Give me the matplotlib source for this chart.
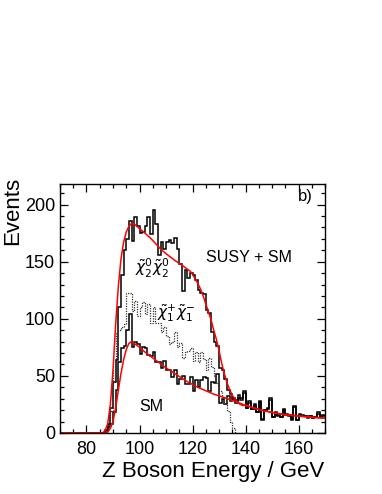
import numpy as np
import matplotlib
matplotlib.use('Agg')
import matplotlib.pyplot as plt

plt.rcParams['font.family'] = ['Liberation Sans', 'DejaVu Sans']

# 1 GeV bins from 70 to 170 GeV
edges = np.arange(70, 171, 1)

# SUSY + SM histogram (bins 70..169), first 16 bins are empty
susy_sm = [0] * 16 + [
    0, 3, 8, 22, 45, 64, 110, 138, 160, 170,
    186, 168, 189, 181, 175, 176, 181, 189, 174, 195,
    183, 156, 167, 161, 167, 169, 166, 171, 161, 148,
    124, 143, 136, 140, 138, 134, 125, 123, 122, 108,
    105, 88, 80, 76, 57, 55, 47, 38, 34, 31,
    29, 33, 31, 37, 22, 28, 21, 25, 18, 28,
    11, 20, 22, 31, 14, 18, 16, 14, 21, 17,
    16, 11, 24, 11, 17, 16, 15, 14, 15, 13,
    14, 18, 14, 16]

# SM only
sm = [0] * 16 + [
    0, 2, 5, 8, 18, 38, 62, 74, 76, 90,
    104, 75, 80, 78, 69, 75, 74, 68, 67, 71,
    62, 62, 57, 63, 55, 55, 49, 55, 43, 47,
    50, 43, 43, 49, 37, 46, 40, 46, 49, 48,
    37, 45, 44, 52, 26, 30, 25, 32, 28, 30,
    26, 31, 29, 35, 22, 26, 21, 24, 18, 27,
    12, 20, 21, 29, 14, 17, 15, 14, 20, 16,
    15, 12, 23, 11, 16, 15, 15, 13, 15, 13,
    14, 17, 14, 15]

# chargino pair contribution (dotted)
chi1chi1 = [0] * 16 + [
    0, 1, 4, 19, 55, 88, 90, 93, 95, 123,
    123, 107, 116, 102, 110, 115, 104, 113, 96, 110,
    96, 96, 88, 93, 85, 78, 80, 88, 75, 79,
    66, 71, 72, 74, 63, 71, 62, 71, 65, 55,
    66, 58, 50, 44, 37, 31, 25, 19, 10, 4] + [0] * 34

# fitted curves (red)
fit_susy_e = [70, 86, 87, 88, 89, 90, 91, 92, 93, 94, 95, 96, 97, 98, 99, 100,
              102, 104, 106, 108, 110, 112, 114, 116, 118, 119, 120, 121, 122,
              123, 124, 125, 126, 127, 128, 129, 130, 131, 132, 133, 134, 135,
              136, 137, 138, 139, 140, 142, 143, 146, 150, 155, 160, 165, 170]
fit_susy_v = [0, 0, 2, 8, 25, 55, 95, 128, 152, 167, 176, 181, 183.5, 183, 181, 179,
              175, 171, 166, 161, 157, 153.5, 150, 147, 143.5, 142, 139, 135, 131,
              126, 120, 113, 106, 99, 90, 82, 72, 61, 52, 44, 38, 33,
              30, 27, 25, 24, 24.5, 22.8, 22, 20, 18, 16, 14.8, 13.8, 13]

fit_sm_e = [70, 87, 88, 89, 90, 91, 92, 93, 94, 95, 96, 97, 98, 100, 102, 104,
            106, 108, 110, 112, 114, 116, 118, 120, 122, 124, 126, 128, 130,
            132, 135, 138, 140, 143, 146, 150, 155, 160, 165, 170]
fit_sm_v = [0, 0, 1, 4, 10, 22, 37, 52, 64, 73, 78.5, 80, 78.5, 75, 71, 67.5,
            64, 60.5, 57, 54, 51, 48, 45, 42.5, 40, 38, 36, 34, 32.5,
            31, 28.5, 26, 24, 22, 20, 18, 16, 14.8, 13.8, 13]

fig = plt.figure(figsize=(3.82, 4.94), dpi=100)
ax = fig.add_axes([0.157, 0.1235, 0.694, 0.504])

ax.stairs(sm, edges, baseline=None, color='black', lw=1.1)
ax.stairs(susy_sm, edges, baseline=None, color='black', lw=1.1)
ax.stairs(chi1chi1, edges, baseline=None, color='#333333', lw=0.9,
          linestyle=(0, (1, 1)))
ax.plot(fit_sm_e, fit_sm_v, color='red', lw=1.1)
ax.plot(fit_susy_e, fit_susy_v, color='red', lw=1.1)

ax.set_xlim(70, 170)
ax.set_ylim(0, 218)
ax.set_xticks([80, 100, 120, 140, 160])
ax.set_xticks(np.arange(70, 171, 5), minor=True)
ax.set_yticks([0, 50, 100, 150, 200])
ax.set_yticks(np.arange(0, 211, 10), minor=True)
ax.tick_params(which='both', direction='in', top=True, right=True,
               labelsize=13, width=0.9)
ax.tick_params(which='major', length=5.5)
ax.tick_params(which='minor', length=3)
ax.tick_params(axis='x', pad=6)
ax.tick_params(axis='y', pad=3.5)
for s in ax.spines.values():
    s.set_linewidth(1.0)

ax.set_ylabel('Events', fontsize=16, loc='top')
ax.yaxis.set_label_coords(-0.14, 1.028)
ax.set_xlabel('Z Boson Energy / GeV', fontsize=16, loc='right')
ax.xaxis.set_label_coords(0.995, -0.112)

ax.text(141.3, 154, 'SUSY + SM', fontsize=11.5, ha='center', va='center')
ax.text(104.5, 23.5, 'SM', fontsize=11.5, ha='center', va='center')
ax.text(165.5, 207, 'b)', fontsize=12, ha='right', va='center')
ax.text(104.9, 144, r'$\tilde{\chi}^{0}_{2}\tilde{\chi}^{0}_{2}$', fontsize=11,
        ha='center', va='center')
ax.text(113.7, 105, r'$\tilde{\chi}^{+}_{1}\tilde{\chi}^{-}_{1}$', fontsize=11,
        ha='center', va='center')

fig.savefig('out.png', dpi=100)
